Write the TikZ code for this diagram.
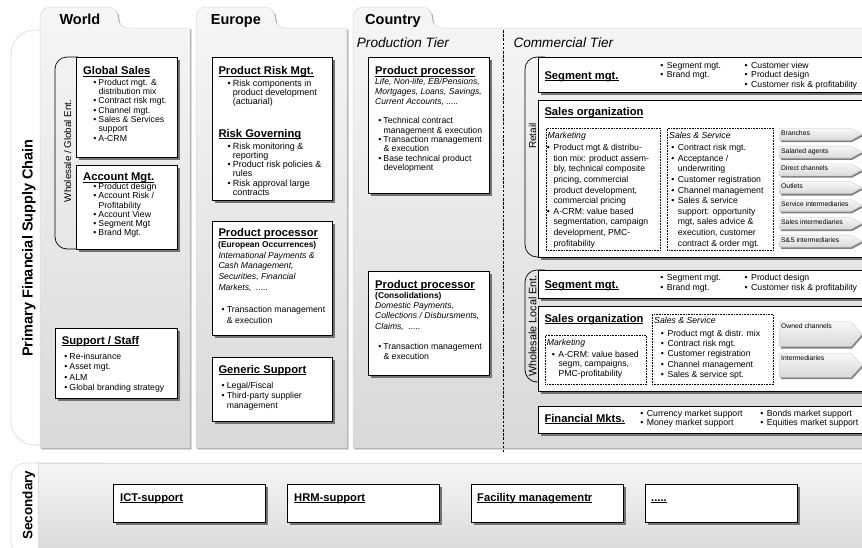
\documentclass[tikz,border=0pt]{standalone}
\usepackage{fontspec}
\setmainfont{Liberation Sans}
\usetikzlibrary{shadows}
\newcommand\Bl[1]{\hbox{\llap{\textbullet\hskip2.2pt}#1}}
\newcommand\BL[1]{\hbox{\llap{\textbullet\hskip3.6pt}#1}}
\newcommand\Cl[1]{\hbox{#1}}
\newcommand\myul[1]{\setbox0\hbox{#1}\rlap{\rule[-2pt]{\wd0}{1pt}}\box0}
\newcommand\chev[4]{%
 \fill[black!50] (781,#2+1.8) -- (852,#2+1.8) -- (863,#2+1.8+#3/2) -- (852,#2+1.8+#3) -- (781,#2+1.8+#3) -- cycle;
 \shade[top color=gray!6, bottom color=gray!30, draw=gray!45, line width=0.3pt] (779,#2) -- (851,#2) -- (862,#2+#3/2) -- (851,#2+#3) -- (779,#2+#3) -- cycle;
 \node[chl] (#1) at (781,#2+7) {#4};}
\begin{document}
\begin{tikzpicture}[x=1pt,y=-1pt,
 box/.style={draw=black, line width=0.7pt, fill=white, inner sep=0, anchor=north west,
   drop shadow={shadow xshift=2.6pt, shadow yshift=-2.6pt, fill=black!55, opacity=1}},
 ttl/.style={font=\fontsize{11.2}{13}\selectfont\bfseries, inner sep=0, anchor=base west},
 sub/.style={font=\fontsize{8.4}{10}\selectfont\bfseries, inner sep=0, anchor=base west},
 lst/.style={font=\fontsize{8.7}{#1}\selectfont, inner sep=0, anchor=base west},
 lst/.default=9.5,
 lstb/.style={font=\fontsize{9}{#1}\selectfont, inner sep=0, anchor=base west},
 lstb/.default=9.5,
 itl/.style={font=\fontsize{8.6}{#1}\selectfont\itshape, inner sep=0, anchor=base west},
 itl/.default=10.5,
 citl/.style={font=\fontsize{8.7}{10}\selectfont\itshape, inner sep=0, anchor=base west},
 head/.style={font=\fontsize{14.5}{16}\selectfont\bfseries, inner sep=0, anchor=base west},
 tier/.style={font=\fontsize{13.6}{16}\selectfont\itshape, inner sep=0, anchor=base west},
 vlab/.style={font=\fontsize{10}{12}\selectfont, inner sep=0, rotate=90},
 big/.style={font=\fontsize{14.5}{16}\selectfont\bfseries, inner sep=0, rotate=90},
 dbox/.style={draw=black, line width=0.6pt, dash pattern=on 0.7pt off 0.9pt, anchor=north west, inner sep=0},
 chl/.style={font=\fontsize{6.8}{8}\selectfont, inner sep=0, anchor=base west},
 brk/.style={draw=black, line width=0.7pt, rounded corners=12},
 frm/.style={draw=gray!30, fill=white, line width=0.6pt},
 panel/.style={draw=gray!28, line width=0.5pt, top color=gray!7, bottom color=gray!30,
   drop shadow={shadow xshift=1.3pt, shadow yshift=-1.3pt, fill=black!40, opacity=1}},
]
\clip (0,0) rectangle (862,547);
\fill[white] (0,0) rectangle (862,547);

% label frames
\draw[frm, rounded corners=24] (11,30) rectangle (120,445);
\draw[frm, rounded corners=15] (11,463) rectangle (120,556);

% panels with tabs
\draw[panel] (40,448) -- (40,28) [rounded corners=10] -- (40,7) -- (118,7) -- (118,28) [sharp corners] -- (190,28) -- (190,448) -- cycle;
\draw[panel] (196,448) -- (196,28) [rounded corners=10] -- (196,7) -- (275,7) -- (275,28) [sharp corners] -- (347,28) -- (347,448) -- cycle;
\draw[panel] (353,448) -- (353,28) [rounded corners=10] -- (353,7) -- (432,7) -- (432,28) [sharp corners] -- (875,28) -- (875,448) -- cycle;
\draw[panel] (38,463) rectangle (875,556);

% tier divider
\coordinate (dv1) at (503,30);
\coordinate (dv2) at (503,452);
\draw[black, line width=0.6pt, dash pattern=on 2.6pt off 1.6pt] (dv1) -- (dv2);

% headings
\node[head] (hw) at (59.3,24.5) {World};
\node[head] (he) at (210.7,24.5) {Europe};
\node[head] (hc) at (365,24.5) {Country};
\node[tier] (tp) at (356.7,47) {Production Tier};
\node[tier] (tc) at (513.3,47) {Commercial Tier};
\node[big] (pfsc) at (29,248) {Primary Financial Supply Chain};
\node[big, font=\fontsize{13.5}{16}\selectfont\bfseries] (sec) at (29,505) {Secondary};

% ---------------- World
\draw[brk] (78,57) -- (55,57) -- (55,249) -- (78,249);
\node[vlab, font=\fontsize{9.8}{12}\selectfont] (wge) at (67.5,151) {Wholesale / Global Ent.};
\node[box, minimum width=101, minimum height=100] (gs) at (76,57) {};
\node[ttl] (gs-t) at (83,74.5) {\myul{Global Sales}};
\node[lst=9.3] (gs-b) at (98.3,85.3) {\vtop{\Bl{Product mgt. \&}\Cl{distribution mix}\Bl{Contract risk mgt.}\Bl{Channel mgt.}\Bl{Sales \& Services}\Cl{support}\Bl{A-CRM}}};
\node[box, minimum width=101, minimum height=84] (am) at (76,165) {};
\node[ttl] (am-t) at (83,180.5) {\myul{Account Mgt.}};
\node[lst=9.2] (am-b) at (98.3,189.6) {\vtop{\Bl{Product design}\Bl{Account Risk /}\Cl{Profitability}\Bl{Account View}\Bl{Segment Mgt}\Bl{Brand Mgt.}}};
\node[box, minimum width=122, minimum height=70] (ss) at (55,328) {};
\node[ttl] (ss-t) at (61.7,344) {\myul{Support / Staff}};
\node[lst=10.5] (ss-b) at (69.3,359) {\vtop{\Bl{Re-insurance}\Bl{Asset mgt.}\Bl{ALM}\Bl{Global branding strategy}}};

% ---------------- Europe
\node[box, minimum width=120, minimum height=143] (prm) at (212,57) {};
\node[ttl] (prm-t) at (218.3,74.7) {\myul{Product Risk Mgt.}};
\node[lstb=9.4] (prm-b) at (232.7,86) {\vtop{\Bl{Risk components in}\Cl{product development}\Cl{(actuarial)}}};
\node[ttl] (rg-t) at (218.3,137.3) {\myul{Risk Governing}};
\node[lstb=9.3] (rg-b) at (232.7,149) {\vtop{\Bl{Risk monitoring \&}\Cl{reporting}\Bl{Product risk policies \&}\Cl{rules}\Bl{Risk approval large}\Cl{contracts}}};
\node[box, minimum width=120, minimum height=114] (ppe) at (212,221) {};
\node[ttl] (ppe-t) at (218.3,236.7) {\myul{Product processor}};
\node[sub] (ppe-s) at (218,247.2) {(European Occurrences)};
\node[itl=10.8] (ppe-i) at (218.3,258) {\vtop{\Cl{International Payments \&}\Cl{Cash Management,}\Cl{Securities, Financial}\Cl{Markets, \ .....}}};
\node[lst=10.7] (ppe-b) at (226.7,312.3) {\vtop{\Bl{Transaction management}\Cl{\& execution}}};
\node[box, minimum width=120, minimum height=64] (gsup) at (212,357) {};
\node[ttl] (gsup-t) at (218.3,373) {\myul{Generic Support}};
\node[lst=10.2] (gsup-b) at (226.7,388) {\vtop{\Bl{Legal/Fiscal}\Bl{Third-party supplier}\Cl{management}}};

% ---------------- Country, production tier
\node[box, minimum width=121, minimum height=136] (pp1) at (368,57) {};
\node[ttl] (pp1-t) at (375,74.7) {\myul{Product processor}};
\node[itl=10] (pp1-i) at (375,84) {\vtop{\Cl{Life, Non-life, EB/Pensions,}\Cl{Mortgages, Loans, Savings,}\Cl{Current Accounts, .....}}};
\node[lst=9.4] (pp1-b) at (383.3,123.7) {\vtop{\Bl{Technical contract}\Cl{management \& execution}\Bl{Transaction management}\Cl{\& execution}\Bl{Base technical product}\Cl{development}}};
\node[box, minimum width=121, minimum height=104] (pp2) at (368,271) {};
\node[ttl] (pp2-t) at (375,288) {\myul{Product processor}};
\node[sub] (pp2-s) at (375,298.5) {(Consolidations)};
\node[itl=10.5] (pp2-i) at (375,308) {\vtop{\Cl{Domestic Payments,}\Cl{Collections / Disbursments,}\Cl{Claims, \ .....}}};
\node[lst=10] (pp2-b) at (383.3,349.5) {\vtop{\Bl{Transaction management}\Cl{\& execution}}};

% ---------------- Commercial tier, retail
\draw[brk] (545,57) -- (525,57) -- (525,257) -- (545,257);
\node[vlab] (ret) at (532.5,136) {Retail};
\node[box, minimum width=340, minimum height=35] (rsm) at (538,57) {};
\node[ttl] (rsm-t) at (544.3,79) {\myul{Segment mgt.}};
\node[lst=9.5] (rsm-c1) at (666.7,68) {\vtop{\BL{Segment mgt.}\BL{Brand mgt.}}};
\node[lst=9.5] (rsm-c2) at (751,68) {\vtop{\BL{Customer view}\BL{Product design}\BL{Customer risk \& profitability}}};
\node[box, minimum width=340, minimum height=157] (rso) at (538,100) {};
\node[ttl] (rso-t) at (544.3,115.7) {\myul{Sales organization}};
\node[dbox, minimum width=114, minimum height=122] (rmk) at (546,128) {};
\node[citl] (rmk-l) at (547.5,138.6) {Marketing};
\node[lst=10.6] (rmk-b) at (553.3,150.7) {\vtop{\BL{Product mgt \& distribu-}\Cl{tion mix: product assem-}\Cl{bly, technical composite}\Cl{pricing, commercial}\Cl{product development,}\Cl{commercial pricing}\BL{A-CRM: value based}\Cl{segmentation, campaign}\Cl{development, PMC-}\Cl{profitability}}};
\node[dbox, minimum width=106, minimum height=122] (rss) at (667,128) {};
\node[citl] (rss-l) at (669,138.6) {Sales \& Service};
\node[lst=10.6] (rss-b) at (677.7,150.7) {\vtop{\BL{Contract risk mgt.}\BL{Acceptance /}\Cl{underwriting}\BL{Customer registration}\BL{Channel management}\BL{Sales \& service}\Cl{support: opportunity}\Cl{mgt, sales advice \&}\Cl{execution, customer}\Cl{contract \& order mgt.}}};
\chev{ch1}{128.3}{12}{Branches}
\chev{ch2}{146.1}{12}{Salaried agents}
\chev{ch3}{163.9}{12}{Direct channels}
\chev{ch4}{181.7}{12}{Outlets}
\chev{ch5}{199.5}{12}{Service intermediaries}
\chev{ch6}{217.3}{12}{Sales intermediaries}
\chev{ch7}{235.1}{12}{S\&S intermediaries}

% ---------------- Commercial tier, wholesale
\draw[brk] (545,270) -- (525,270) -- (525,382) -- (545,382);
\node[vlab, font=\fontsize{10.8}{13}\selectfont] (wle) at (532.5,326) {Wholesale Local Ent.};
\node[box, minimum width=340, minimum height=28] (wsm) at (538,270) {};
\node[ttl] (wsm-t) at (544.3,288) {\myul{Segment mgt.}};
\node[lst=10] (wsm-c1) at (666.7,280.5) {\vtop{\BL{Segment mgt.}\BL{Brand mgt.}}};
\node[lst=10] (wsm-c2) at (751,280.5) {\vtop{\BL{Product design}\BL{Customer risk \& profitability}}};
\node[box, minimum width=340, minimum height=85] (wso) at (538,306) {};
\node[ttl] (wso-t) at (544.3,322.3) {\myul{Sales organization}};
\node[dbox, minimum width=101, minimum height=49] (wmk) at (545,335) {};
\node[citl] (wmk-l) at (546.7,345.3) {Marketing};
\node[lst=9.5] (wmk-b) at (558.3,357.3) {\vtop{\BL{A-CRM: value based}\Cl{segm, campaigns,}\Cl{PMC-profitability}}};
\node[dbox, minimum width=121.5, minimum height=70] (wss) at (651.7,314.3) {};
\node[citl] (wss-l) at (654,323) {Sales \& Service};
\node[lst=10.3] (wss-b) at (667.3,336.3) {\vtop{\BL{Product mgt \& distr. mix}\BL{Contract risk mgt.}\BL{Customer registration}\BL{Channel management}\BL{Sales \& service spt.}}};
\chev{ch8}{321.7}{25}{Owned channels}
\chev{ch9}{353.3}{24}{Intermediaries}

\node[box, minimum width=340, minimum height=27] (fm) at (538,406) {};
\node[ttl] (fm-t) at (544.3,422.3) {\myul{Financial Mkts.}};
\node[lst=9] (fm-c1) at (646.7,416.3) {\vtop{\BL{Currency market support}\BL{Money market support}}};
\node[lst=9] (fm-c2) at (766.7,416.3) {\vtop{\BL{Bonds market support}\BL{Equities market support}}};

% ---------------- Secondary
\node[box, minimum width=152, minimum height=38] (ict) at (113,484) {};
\node[ttl] (ict-t) at (120,501) {\myul{ICT-support}};
\node[box, minimum width=152, minimum height=38] (hrm) at (287,484) {};
\node[ttl] (hrm-t) at (294,501) {\myul{HRM-support}};
\node[box, minimum width=152, minimum height=38] (fac) at (471,484) {};
\node[ttl] (fac-t) at (477,501) {\myul{Facility managementr}};
\node[box, minimum width=152, minimum height=38] (etc) at (645,484) {};
\node[ttl] (etc-t) at (651,501) {\myul{.....}};
\end{tikzpicture}
\end{document}
